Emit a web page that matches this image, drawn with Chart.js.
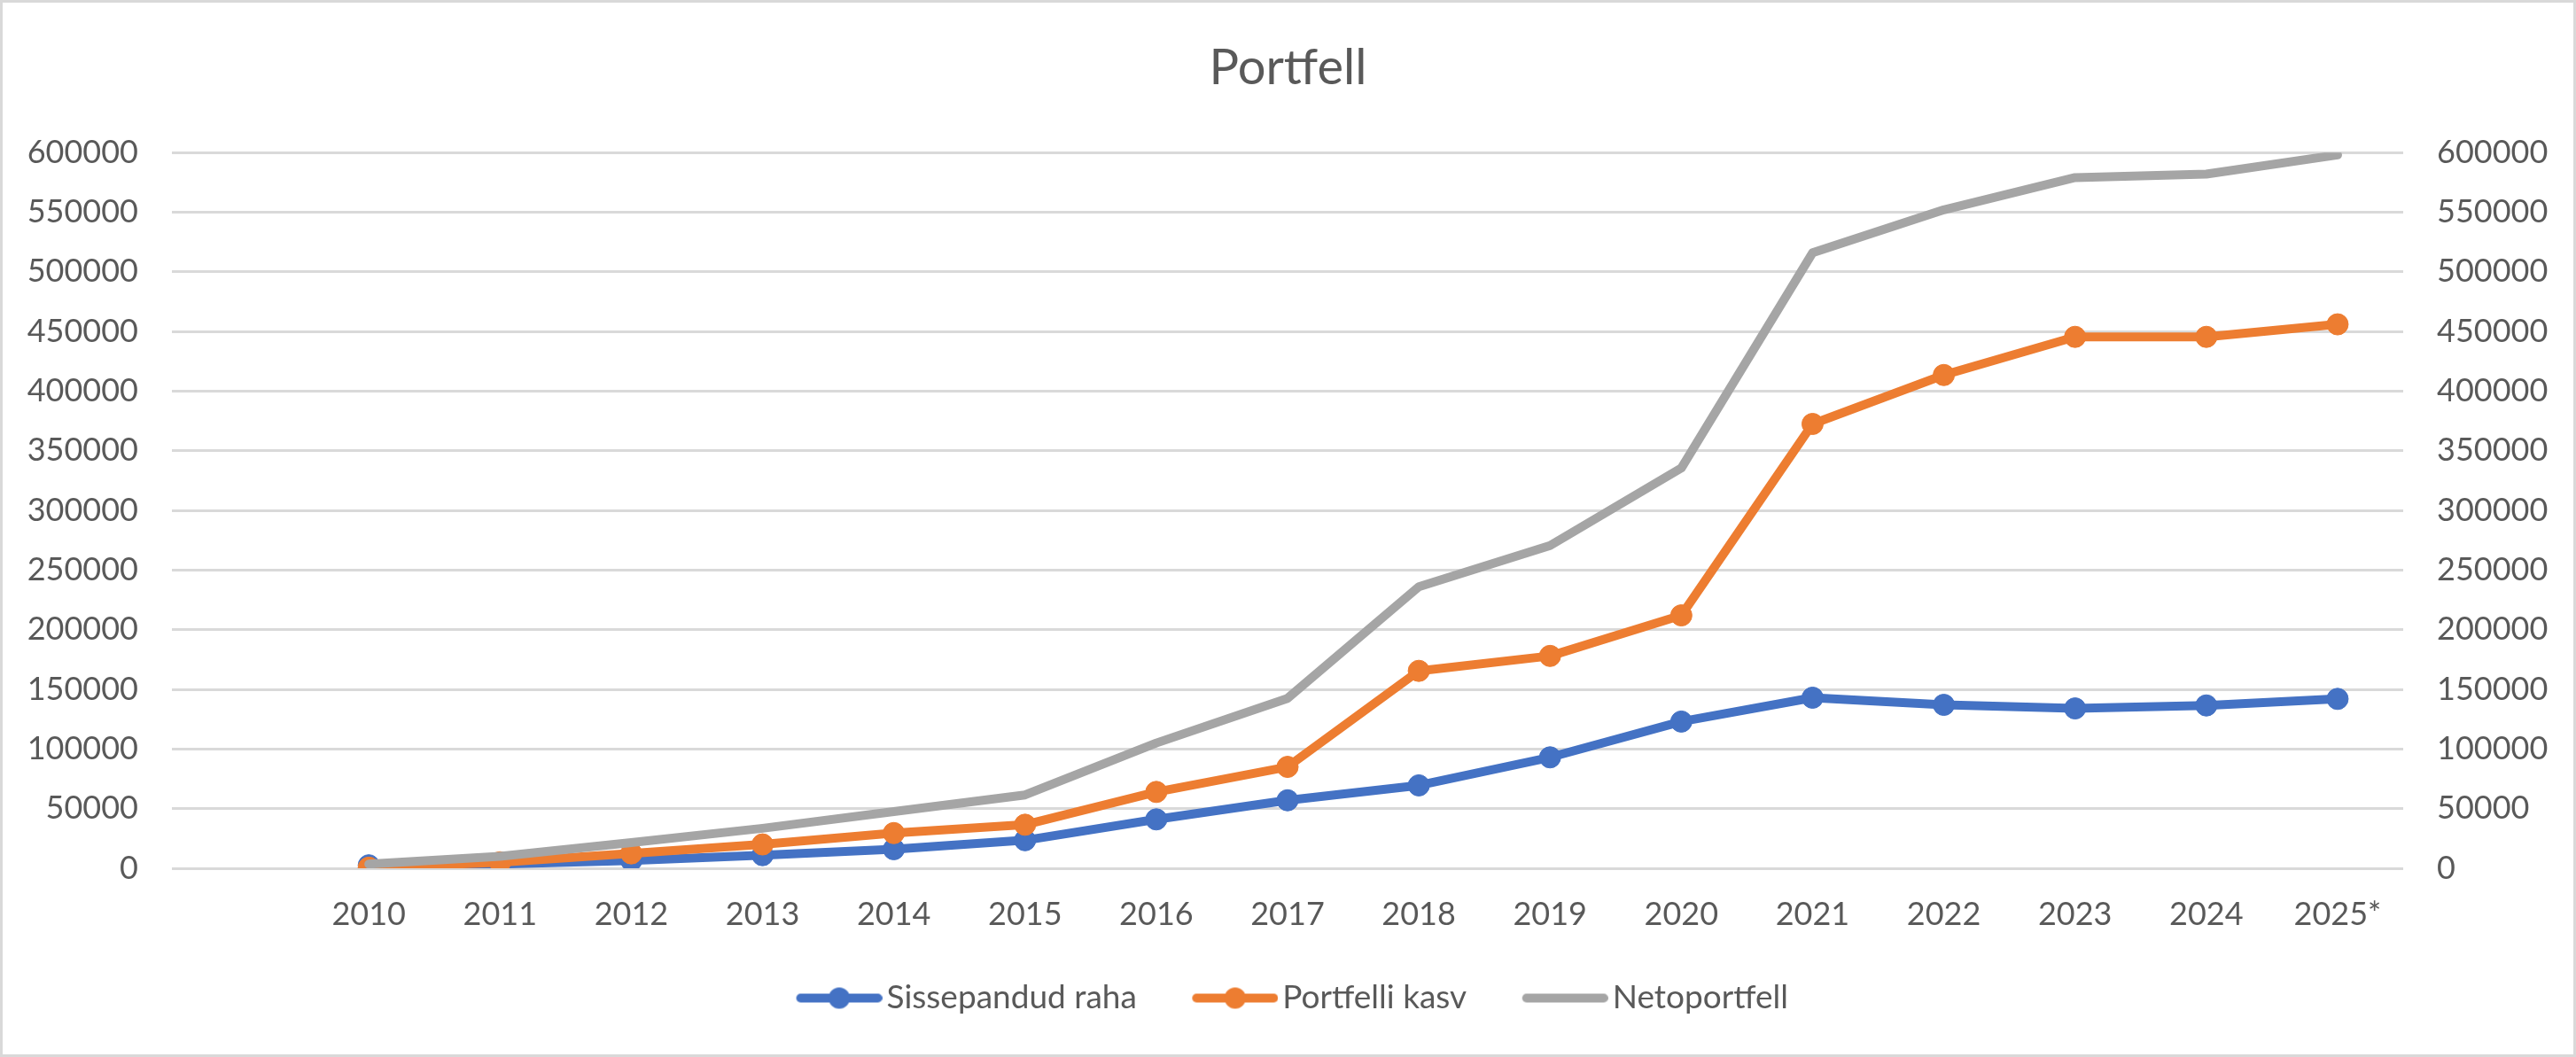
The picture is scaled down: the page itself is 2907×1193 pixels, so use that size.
<!DOCTYPE html>
<html>
<head>
<meta charset="utf-8">
<title>Portfell</title>
<script src="https://cdn.jsdelivr.net/npm/chart.js@4/dist/chart.umd.min.js"></script>
<style>
  html, body { margin: 0; padding: 0; background: #fff; }
  #wrap { width: 2907px; height: 1193px; position: relative; }
</style>
</head>
<body>
<div id="wrap"><canvas id="chart"></canvas></div>
<script>
const years = ["2010", "2011", "2012", "2013", "2014", "2015", "2016", "2017",
  "2018", "2019", "2020", "2021", "2022", "2023", "2024", "2025*"];
const sissepandudRaha = [2500, 3500, 6500, 11000, 16000, 23500, 41000, 57000,
  69500, 93000, 123000, 143000, 137000, 134000, 136500, 142000];
const portfelliKasv = [500, 5000, 12500, 20000, 29500, 36500, 64000, 85000,
  165500, 178000, 212000, 372500, 413500, 445500, 445500, 456000];
const netoportfell = [3500, 10000, 21500, 33500, 47500, 61500, 105000, 142500,
  236000, 270500, 335500, 516000, 552000, 579000, 582000, 598000];
const yMin = 0;
const yMax = 600000;
const yStep = 50000;

const TEXT = "#595959";
const GRID = "#d9d9d9";
const BLUE = "#4472c4";
const ORANGE = "#ed7d31";
const GREY = "#a5a5a5";

Chart.defaults.font.family = "Lato, 'Liberation Sans', sans-serif";
Chart.defaults.color = TEXT;

// legend icon: a line with (optionally) a marker on it, like Excel.
// The canvas is wider than the drawn line so the line sits close to its text.
const legendIcon = function (color, marker) {
  const c = document.createElement("canvas");
  c.width = 120;
  c.height = 30;
  const ctx = c.getContext("2d");
  ctx.strokeStyle = color;
  ctx.lineWidth = 10;
  ctx.lineCap = "round";
  ctx.beginPath();
  ctx.moveTo(28, 15);
  ctx.lineTo(115, 15);
  ctx.stroke();
  if (marker) {
    ctx.fillStyle = color;
    ctx.beginPath();
    ctx.arc(71.5, 15, 12, 0, Math.PI * 2);
    ctx.fill();
  }
  return c;
};

const icons = [legendIcon(BLUE, true), legendIcon(ORANGE, true), legendIcon(GREY, false)];

// leading blank category so the first year sits 1.5 steps from the axis
const pad = (arr) => [null].concat(arr);

const borderPlugin = {
  id: "frame",
  beforeDraw(chart) {
    const ctx = chart.ctx;
    ctx.save();
    ctx.fillStyle = "#fff";
    ctx.fillRect(0, 0, chart.width, chart.height);
    ctx.restore();
  },
  afterDraw(chart) {
    const ctx = chart.ctx;
    ctx.save();
    ctx.strokeStyle = GRID;
    ctx.lineWidth = 3;
    ctx.strokeRect(1.5, 1.5, chart.width - 3, chart.height - 3);
    ctx.restore();
  },
};

const lineSet = function (label, data, color, radius, order) {
  return {
    label: label,
    data: pad(data),
    borderColor: color,
    backgroundColor: color,
    borderWidth: 10,
    borderJoinStyle: "round",
    borderCapStyle: "round",
    pointRadius: radius,
    pointHoverRadius: radius,
    pointBorderWidth: 1,
    pointBackgroundColor: color,
    pointBorderColor: color,
    tension: 0,
    order: order,
    yAxisID: "y",
  };
};

const names = ["Sissepandud raha", "Portfelli kasv", "Netoportfell"];

new Chart(document.getElementById("chart"), {
  type: "line",
  data: {
    labels: [""].concat(years),
    datasets: [
      lineSet(names[0], sissepandudRaha, BLUE, 12, 3),
      lineSet(names[1], portfelliKasv, ORANGE, 12, 2),
      lineSet(names[2], netoportfell, GREY, 0, 1),
    ],
  },
  options: {
    responsive: true,
    maintainAspectRatio: false,
    animation: false,
    layout: { padding: { top: 0, left: 0, right: 0, bottom: 38 } },
    plugins: {
      title: {
        display: true,
        text: "Portfell",
        color: TEXT,
        font: { size: 56, weight: "normal" },
        padding: { top: 43, bottom: 62 },
      },
      legend: {
        position: "bottom",
        labels: {
          color: TEXT,
          font: { size: 37 },
          usePointStyle: true,
          pointStyleWidth: 93,
          padding: 53,
          generateLabels: () =>
            names.map((name, i) => ({
              text: name,
              pointStyle: icons[i],
              fillStyle: "transparent",
              strokeStyle: "transparent",
              lineWidth: 0,
              hidden: false,
              datasetIndex: i,
              fontColor: TEXT,
            })),
        },
      },
      tooltip: { enabled: false },
    },
    scales: {
      x: {
        offset: true,
        grid: { display: false, drawTicks: false },
        border: { display: false },
        ticks: {
          color: TEXT,
          font: { size: 36 },
          padding: 31,
          autoSkip: false,
          maxRotation: 0,
        },
        afterFit: (scale) => { scale.height = 75; },
      },
      y: {
        position: "left",
        min: yMin,
        max: yMax,
        grid: { color: GRID, lineWidth: 3, drawTicks: false },
        border: { display: false },
        ticks: {
          stepSize: yStep,
          color: TEXT,
          font: { size: 36 },
          padding: 38,
          callback: (v) => String(v),
        },
        afterFit: (scale) => { scale.width = 194; },
      },
      y2: {
        position: "right",
        min: yMin,
        max: yMax,
        grid: { display: false, drawTicks: false },
        border: { display: false },
        ticks: {
          stepSize: yStep,
          color: TEXT,
          font: { size: 36 },
          padding: 38,
          callback: (v) => String(v),
        },
        afterFit: (scale) => { scale.width = 195; },
      },
    },
  },
  plugins: [borderPlugin],
});
</script>
</body>
</html>
